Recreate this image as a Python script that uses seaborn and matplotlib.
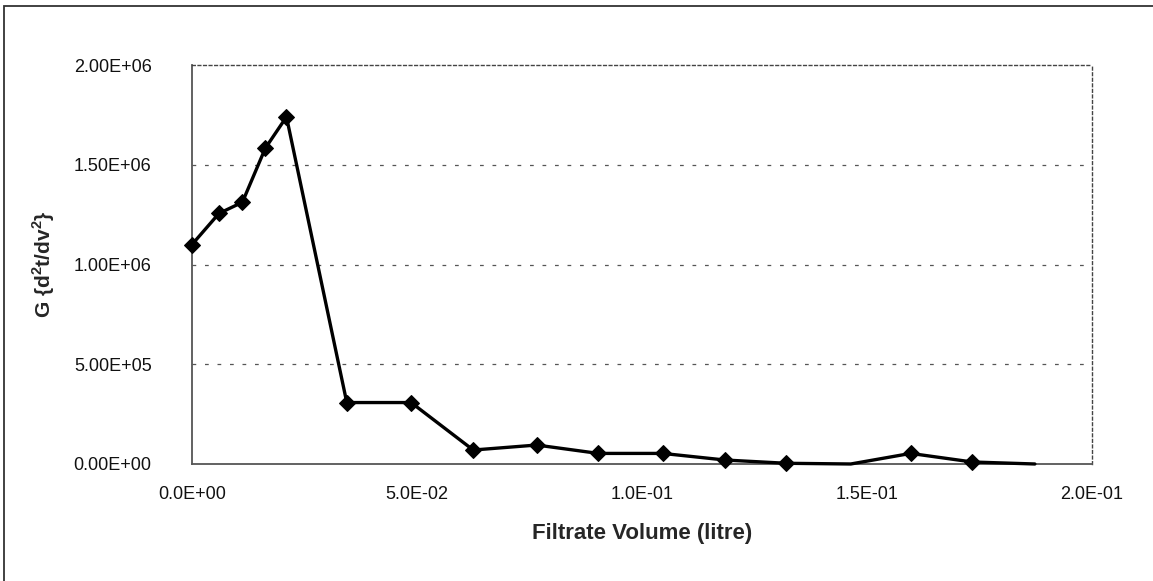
import matplotlib
matplotlib.use("Agg")
import matplotlib.pyplot as plt
from matplotlib.patches import Rectangle
from matplotlib.ticker import FuncFormatter
import seaborn as sns
import pandas as pd

# Filtrate volume (litre) and second derivative G = d2t/dv2
volume = [0.0, 0.0060, 0.0112, 0.0163, 0.0210, 0.0344, 0.0487, 0.0625, 0.0766,
          0.0903, 0.1046, 0.1184, 0.1321, 0.1464, 0.1597, 0.1734, 0.1873]
g_value = [1.10e6, 1.256e6, 1.312e6, 1.583e6, 1.74e6, 3.08e5, 3.08e5, 7.0e4, 9.5e4,
           5.3e4, 5.3e4, 2.0e4, 3.5e3, 0.0, 5.3e4, 1.0e4, 0.0]
# points drawn with a diamond marker
marked = [0, 1, 2, 3, 4, 5, 6, 7, 8, 9, 10, 11, 12, 14, 15]

x_ticks = [0.0, 0.05, 0.10, 0.15, 0.20]
y_ticks = [0.0, 5.0e5, 1.0e6, 1.5e6, 2.0e6]

sns.set_style("white")
plt.rcParams["font.family"] = ["Liberation Sans", "DejaVu Sans"]
plt.rcParams["mathtext.fontset"] = "custom"
plt.rcParams["mathtext.bf"] = "Liberation Sans:bold"
plt.rcParams["mathtext.rm"] = "Liberation Sans:bold"

df = pd.DataFrame({"volume": volume, "G": g_value})

fig = plt.figure(figsize=(11.53, 5.81), dpi=100)
ax = fig.add_axes([0.1665, 0.2014, 0.7806, 0.6867])

sns.lineplot(data=df, x="volume", y="G", ax=ax, sort=False, estimator=None,
             color="black", linewidth=2.4, marker="D", markersize=8,
             markeredgecolor="black", markerfacecolor="black",
             markevery=marked, clip_on=False, zorder=5)

ax.set_xlim(0, 0.2)
ax.set_ylim(0, 2.0e6)
ax.set_xticks(x_ticks)
ax.set_yticks(y_ticks)


def sci_fmt(decimals):
    def f(v, pos):
        s = f"{v:.{decimals}E}"
        mant, exp = s.split("E")
        sign = exp[0]
        return f"{mant}E{sign}{int(exp[1:]):02d}"
    return FuncFormatter(f)


ax.xaxis.set_major_formatter(sci_fmt(1))
ax.yaxis.set_major_formatter(sci_fmt(2))
ax.tick_params(axis="both", length=0, labelsize=13, colors="#111111")
ax.tick_params(axis="y", pad=29)
ax.tick_params(axis="x", pad=16)

# horizontal gridlines
for yv in y_ticks[1:-1]:
    ax.axhline(yv, color="#555555", linewidth=0.9, linestyle=(0, (3, 7)), zorder=1)

for side in ["left", "bottom"]:
    ax.spines[side].set_color("#555555")
    ax.spines[side].set_linewidth(1.3)
for side in ["top", "right"]:
    ax.spines[side].set_color("#444444")
    ax.spines[side].set_linewidth(1.0)
    ax.spines[side].set_linestyle((0, (2, 2)))

ax.set_xlabel("Filtrate Volume (litre)", fontsize=16, fontweight="bold", labelpad=14)
ax.set_ylabel(r"G {d$^{2}$t/dv$^{2}$}", fontsize=15, fontweight="bold", labelpad=12)

# chart area border
fig.add_artist(Rectangle((4 / 1153, -0.01), 1.0, 1 - 6 / 581 + 0.01,
                         transform=fig.transFigure, fill=False,
                         edgecolor="#333333", linewidth=1.3))

fig.savefig("out.png", dpi=100)
